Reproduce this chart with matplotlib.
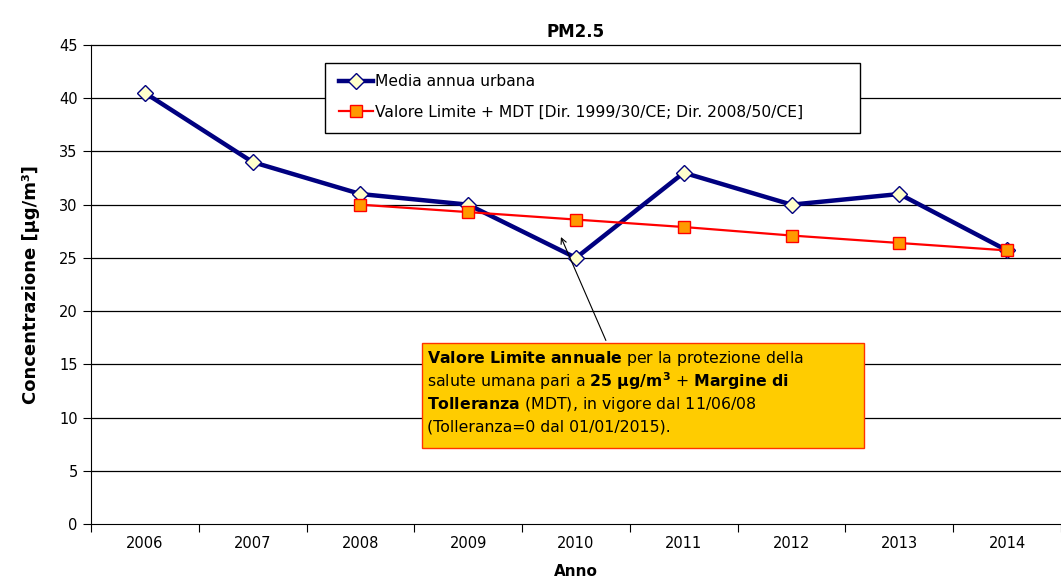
import matplotlib
matplotlib.use("Agg")
import matplotlib.pyplot as plt
from matplotlib.patches import Rectangle

anni = ["2006", "2007", "2008", "2009", "2010", "2011", "2012", "2013", "2014"]
media_urbana = [40.5, 34.0, 31.0, 30.0, 25.0, 33.0, 30.0, 31.0, 25.7]
anni_limite = ["2008", "2009", "2010", "2011", "2012", "2013", "2014"]
valore_limite = [30.0, 29.3, 28.6, 27.9, 27.1, 26.4, 25.7]
y_ticks = [0, 5, 10, 15, 20, 25, 30, 35, 40, 45]

plt.rcParams['font.family'] = ['DejaVu Sans']
plt.rcParams['mathtext.fontset'] = 'dejavusans'

W, H = 1061, 585
fig = plt.figure(figsize=(W / 100, H / 100), dpi=100)
ax = fig.add_axes([91 / W, 1 - 524 / H, 1 - 91 / W, (524 - 45) / H])

xs = list(range(len(anni)))
xl = [anni.index(a) for a in anni_limite]

ax.plot(xs, media_urbana, color='#000080', lw=3.2, marker='D', ms=8.5,
        mfc='#FFFFCC', mec='#000080', mew=1.0, label='Media annua urbana', zorder=4)
ax.plot(xl, valore_limite, color='#FF0000', lw=1.6, marker='s', ms=9,
        mfc='#FF9900', mec='#FF0000', mew=1.0,
        label='Valore Limite + MDT [Dir. 1999/30/CE; Dir. 2008/50/CE]', zorder=5)

ax.set_xlim(-0.5, len(anni) - 0.5)
ax.set_ylim(0, 45)
ax.set_yticks(y_ticks)
ax.set_yticklabels([str(v) for v in y_ticks], fontsize=10.5)
ax.set_xticks([i + 0.5 for i in range(-1, len(anni))])
ax.set_xticklabels([])
ax.set_xticks(xs, minor=True)
ax.set_xticklabels(anni, minor=True, fontsize=10.5)
ax.tick_params(axis='x', which='major', direction='out', length=6)
ax.tick_params(axis='x', which='minor', length=0, pad=9)
ax.tick_params(axis='y', direction='out', length=6)
for v in y_ticks[1:]:
    ax.axhline(v, color='black', lw=0.9, zorder=1, clip_on=False)
for s in ['top', 'right']:
    ax.spines[s].set_visible(False)

ax.set_title('PM2.5', fontsize=12, fontweight='bold', pad=6)
ax.set_xlabel('Anno', fontsize=11, fontweight='bold', labelpad=9)
ax.set_ylabel('Concentrazione [µg/m³]', fontsize=13, fontweight='bold', labelpad=14)

# legend box
ax.add_patch(Rectangle((325 / W, 1 - 133 / H), (860 - 325) / W, 70 / H,
                       transform=fig.transFigure, facecolor='white',
                       edgecolor='black', lw=1.0, zorder=7, clip_on=False))
leg = ax.legend(loc='upper left', bbox_to_anchor=(339 / W, 1 - 74 / H),
                bbox_transform=fig.transFigure,
                fontsize=11.2, frameon=False, handlelength=2.2, handletextpad=0.1,
                borderpad=0, labelspacing=1.0, borderaxespad=0)
leg.set_zorder(8)

# annotation box
bx0, by0 = 422 / W, 1 - 448 / H
bw, bh = (864 - 422) / W, (448 - 343) / H
ax.add_patch(Rectangle((bx0, by0), bw, bh, transform=fig.transFigure,
                       facecolor='#FFCC00', edgecolor='#FF3300', lw=1.0, zorder=7,
                       clip_on=False))
righe = [
    r"$\mathbf{Valore\ Limite\ annuale}$ per la protezione della",
    r"salute umana pari a $\mathbf{25\ \mu g/m^3}$ + $\mathbf{Margine\ di}$",
    r"$\mathbf{Tolleranza}$ (MDT), in vigore dal 11/06/08",
    r"(Tolleranza=0 dal 01/01/2015).",
]
for i, r in enumerate(righe):
    fig.text(427 / W, 1 - (359 + i * 22.5) / H, r, fontsize=11.3, va='center',
             ha='left', zorder=9)

ax.annotate('', xy=(3.85, 27.2), xycoords='data',
            xytext=(607 / W, 1 - 343 / H), textcoords='figure fraction',
            arrowprops=dict(arrowstyle='->', color='black', lw=0.8), zorder=6)

fig.savefig('out.png', dpi=100)
